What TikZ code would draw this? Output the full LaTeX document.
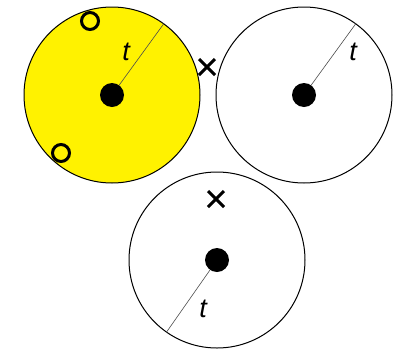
\documentclass[tikz,border=0pt]{standalone}
\usepackage{fontspec}
\setmainfont{Liberation Sans}
\usetikzlibrary{calc}
\begin{document}
\begin{tikzpicture}[x=1pt,y=-1pt,
  disk/.style={circle,draw=black,line width=1pt,minimum size=176pt,inner sep=0pt},
  hub/.style={circle,fill=black,minimum size=24pt,inner sep=0pt},
  ring/.style={circle,draw=black,line width=3pt,minimum size=17pt,inner sep=0pt},
  radius/.style={draw=black!70,line width=0.6pt},
  lab/.style={font=\fontsize{27}{29}\selectfont\itshape,inner sep=0pt},
  cross/.style={line width=3pt,draw=black}]
\useasboundingbox (0,0) rectangle (394,349);
% disks
\node[disk,fill=yellow] (d1) at (112,95) {};
\node[disk,fill=white] (d2) at (304,95) {};
\node[disk,fill=white] (d3) at (217,260) {};
% radii
\draw[radius] (d1.center) -- (d1.54.7);
\draw[radius] (d2.center) -- (d2.54.7);
\draw[radius] (d3.center) -- (d3.235);
% hubs
\node[hub] (h1) at (d1.center) {};
\node[hub] (h2) at (d2.center) {};
\node[hub] (h3) at (d3.center) {};
% labels
\node[lab] (t1) at (126,52) {t};
\node[lab] (t2) at (353,52) {t};
\node[lab] (t3) at (203,309) {t};
% rings
\node[ring] (r1) at (90,21) {};
\node[ring] (r2) at (61,153) {};
% crosses
\coordinate (x1) at (207,67);
\coordinate (x2) at (216,199);
\draw[cross] ($(x1)+(-8,-8)$) -- ($(x1)+(8,8)$) ($(x1)+(-8,8)$) -- ($(x1)+(8,-8)$);
\draw[cross] ($(x2)+(-8,-8)$) -- ($(x2)+(8,8)$) ($(x2)+(-8,8)$) -- ($(x2)+(8,-8)$);
\end{tikzpicture}
\end{document}
